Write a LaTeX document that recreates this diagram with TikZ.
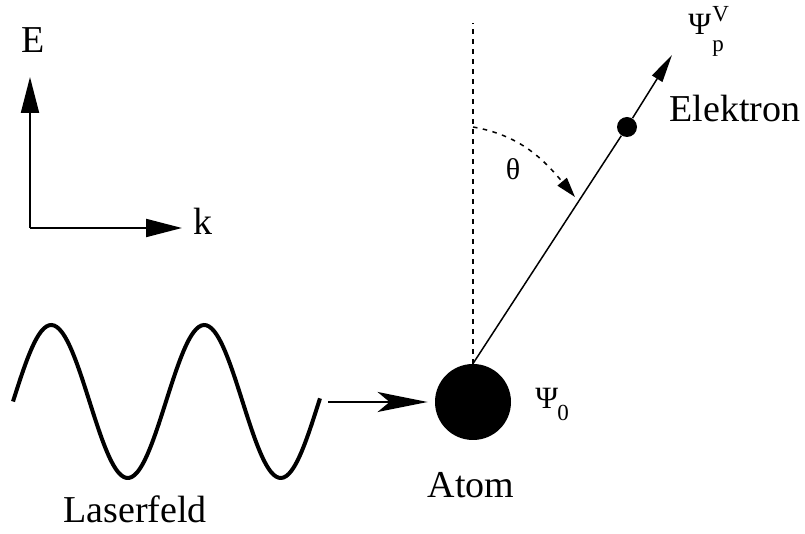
\documentclass[tikz,border=0pt]{standalone}
\usepackage{fontspec}
\setmainfont{Liberation Serif}
\usetikzlibrary{arrows.meta}

\begin{document}
\begin{tikzpicture}[x=0.5pt, y=-0.5pt,
  lbl/.style={font=\fontsize{19}{22}\selectfont, inner sep=0pt},
  psilbl/.style={font=\fontsize{15.5}{18}\selectfont, inner sep=0pt, anchor=base west},
  idxlbl/.style={font=\fontsize{11.5}{13}\selectfont, inner sep=0pt, anchor=base west},
  thinline/.style={line width=0.75pt},
  axis/.style={line width=1pt, -{Triangle[length=18pt,width=9pt]}},
  dashline/.style={thinline, dash pattern=on 2.25pt off 2.75pt},
  ]
  \useasboundingbox (0,0) rectangle (805,534);
  % Axes
  \coordinate (origin) at (30,228);
  \coordinate (etip) at (30,77);
  \coordinate (ktip) at (182,228);
  \draw[axis] (origin) -- (etip);
  \draw[axis] (origin) -- (ktip);
  \node[lbl, anchor=base] (elab) at (33,53) {E};
  \node[lbl, anchor=base] (klab) at (203,235) {k};
  % Laser wave
  \draw[line width=2pt] plot[domain=13:320, samples=120, smooth]
    (\x, {401.5 - 76.5*sin((\x-13)/153*360)});
  \node[lbl, anchor=base] (laser) at (135,523) {Laserfeld};
  % Atom
  \node[circle, fill=black, minimum size=38pt, inner sep=0pt] (atom) at (473,402) {};
  \node[lbl, anchor=base] (atomlab) at (471,498) {Atom};
  \node[psilbl] (psinull) at (535,409) {Ψ};
  \node[idxlbl] (psinullsub) at (557,421) {0};
  \coordinate (lasertail) at (328,402);
  \draw[line width=1pt, -{Stealth[length=25pt,width=10pt,inset=6pt]}, shorten >=3.5pt]
    (lasertail) -- (atom);
  % Electron
  \node[circle, fill=black, minimum size=10pt, inner sep=0pt] (elec) at (627,127) {};
  \coordinate (ptip) at (672,55);
  \draw[thinline] (atom.north) -- (elec);
  \draw[thinline, -{Triangle[length=14pt,width=6pt]}] (elec) -- (ptip);
  \node[lbl, anchor=base west] (eleclab) at (669,122) {Elektron};
  \node[psilbl] (psip) at (688,35) {Ψ};
  \node[idxlbl] (psipsup) at (712,22) {V};
  \node[idxlbl] (psipsub) at (712,52) {p};
  % Angle
  \coordinate (vtop) at (473,23);
  \draw[dashline] (atom.north) -- (vtop);
  \coordinate (arcstart) at (473,127);
  \coordinate (arcend) at (575,197);
  \draw[dashline, -{Triangle[length=10pt,width=6pt]}]
    (arcstart) to[out=-10, in=130] (arcend);
  \node[lbl, anchor=base, font=\fontsize{15}{18}\selectfont] (theta) at (513,180) {θ};
\end{tikzpicture}
\end{document}
